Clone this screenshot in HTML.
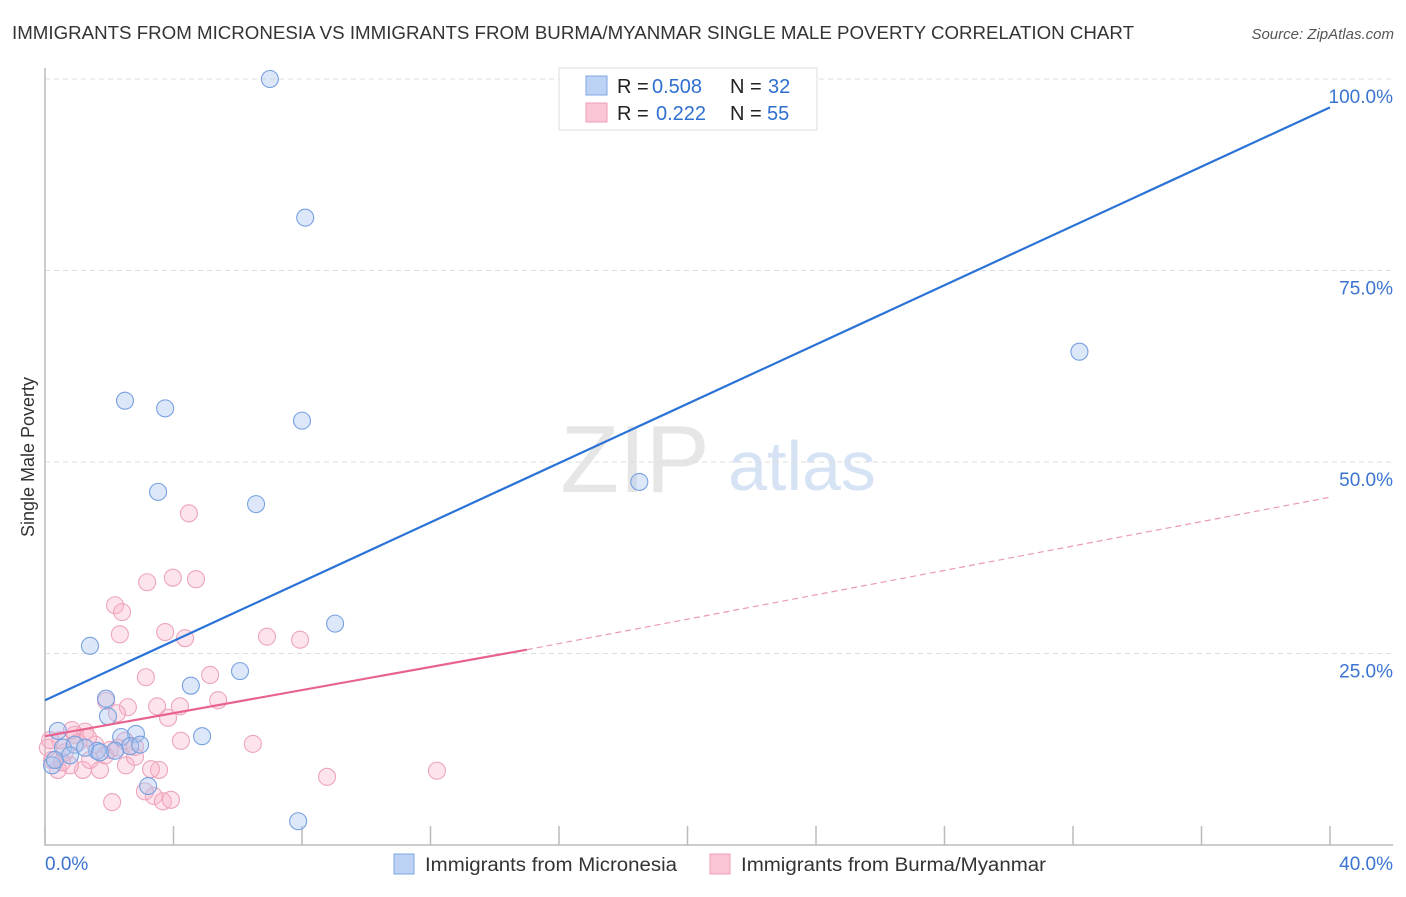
<!DOCTYPE html>
<html><head><meta charset="utf-8"><style>
body{margin:0;background:#fff;font-family:"Liberation Sans",sans-serif;}
svg text{font-family:"Liberation Sans",sans-serif;}
</style></head><body>
<svg id="chart" width="1406" height="892" xmlns="http://www.w3.org/2000/svg">
<text x="12" y="39" font-size="18" fill="#333" textLength="1122" lengthAdjust="spacingAndGlyphs">IMMIGRANTS FROM MICRONESIA VS IMMIGRANTS FROM BURMA/MYANMAR SINGLE MALE POVERTY CORRELATION CHART</text>
<text x="1394" y="39" font-size="15" fill="#555" text-anchor="end" font-style="italic">Source: ZipAtlas.com</text>
<g>
<text x="635" y="492" font-size="96" fill="#e6e6e6" text-anchor="middle" font-family="Liberation Serif, serif">ZIP</text>
<text x="802" y="490" font-size="70" fill="#d6e3f5" text-anchor="middle">atlas</text>
</g>
<g id="grid"></g><g id="axes"></g><g id="marks"></g><g id="lines"></g>
<g>
<rect x="559" y="68" width="258" height="62" fill="#fff" stroke="#ddd"/>
<rect x="586" y="76" width="21" height="19" fill="#bcd3f5" stroke="#7fa6e3"/>
<rect x="586" y="103" width="21" height="19" fill="#fbc6d4" stroke="#ee9db5"/>
<text x="617" y="93" font-size="20" fill="#222">R =</text>
<text x="652" y="93" font-size="20" fill="#2f6fcf">0.508</text>
<text x="730" y="93" font-size="20" fill="#222">N =</text>
<text x="768" y="93" font-size="20" fill="#2f6fcf">32</text>
<text x="617" y="120" font-size="20" fill="#222">R =</text>
<text x="656" y="120" font-size="20" fill="#2f6fcf">0.222</text>
<text x="730" y="120" font-size="20" fill="#222">N =</text>
<text x="767" y="120" font-size="20" fill="#2f6fcf">55</text>
</g>
<text transform="translate(34,457) rotate(-90)" font-size="18" fill="#333" text-anchor="middle">Single Male Poverty</text>
<g>
<rect x="394" y="854" width="20" height="20" fill="#bcd3f5" stroke="#7fa6e3"/>
<text x="425" y="871" font-size="19" fill="#333" textLength="252" lengthAdjust="spacingAndGlyphs">Immigrants from Micronesia</text>
<rect x="710" y="854" width="20" height="20" fill="#fbc6d4" stroke="#ee9db5"/>
<text x="741" y="871" font-size="19" fill="#333" textLength="305" lengthAdjust="spacingAndGlyphs">Immigrants from Burma/Myanmar</text>
</g>
</svg>
<script>
const blueX=[7.0,8.1,32.2,2.49,3.74,8.0,3.52,6.57,18.5,9.03,1.40,6.07,4.54,1.90,1.96,4.89,2.83,2.37,2.65,2.18,1.62,0.40,0.56,0.93,0.22,0.31,1.25,3.21,7.88,1.71,0.78,2.96];
const blueY=[100.0,81.9,64.4,58.0,57.0,55.4,46.1,44.5,47.4,28.9,26.0,22.7,20.8,19.1,16.8,14.2,14.5,14.1,12.9,12.3,12.3,14.9,12.7,13.1,10.4,11.1,12.7,7.7,3.1,12.1,11.7,13.1];
const pinkX=[4.48,3.98,4.70,3.18,2.18,2.40,2.33,3.74,4.36,6.91,7.94,3.14,5.14,5.39,1.90,2.58,4.20,3.49,3.83,2.24,6.47,4.23,8.78,12.2,2.09,3.39,3.67,3.92,3.11,3.55,3.30,2.52,1.71,1.18,0.40,0.78,0.22,0.09,0.47,0.93,1.25,1.56,2.02,2.49,2.80,1.40,1.87,0.62,1.03,2.80,0.84,0.16,1.34,2.27,0.53];
const pinkY=[43.3,34.9,34.7,34.3,31.3,30.4,27.5,27.8,27.0,27.2,26.8,21.9,22.2,18.9,18.8,18.0,18.1,18.1,16.6,17.2,13.2,13.6,8.9,9.7,5.6,6.4,5.7,5.9,7.0,9.8,9.9,10.4,9.8,9.8,9.8,10.4,11.1,12.7,13.7,14.4,14.8,13.1,12.4,13.6,12.8,11.1,11.7,12.1,13.4,11.5,15.0,13.7,14.0,12.7,10.8];
const yTicks=[25,50,75,100];
const yTickLabels=["25.0%","50.0%","75.0%","100.0%"];
const xTicks=[0,4,8,12,16,20,24,28,32,36,40];
const blueTrend=[[0,18.9],[40,96.3]];
const pinkTrendSolid=[[0,14.2],[15,25.5]];
const pinkTrendDash=[[15,25.5],[40,45.4]];
const X=v=>45+v*32.125, Y=v=>845-v*7.66;
const NS="http://www.w3.org/2000/svg";
function mk(p,t,a){const e=document.createElementNS(NS,t);for(const k in a)e.setAttribute(k,a[k]);p.appendChild(e);return e;}
const grid=document.getElementById('grid'),axes=document.getElementById('axes'),marks=document.getElementById('marks'),lines=document.getElementById('lines');
yTicks.forEach((v,i)=>{
 const g=mk(grid,'line',{x1:45,x2:1393,y1:Y(v),y2:Y(v),stroke:'#ddd','stroke-dasharray':'5,4'});
 
 
 const t=mk(axes,'text',{x:1393,y:Y(v)+24,'font-size':19,fill:'#3a74d0','text-anchor':'end'});
 t.textContent=yTickLabels[i];
 
 
});
const ax=mk(axes,'path',{d:'M45,68V845H1393',fill:'none',stroke:'#bbb','stroke-width':1.5});


xTicks.forEach(v=>{
 const l=mk(axes,'line',{x1:X(v),x2:X(v),y1:826,y2:845,stroke:'#bbb','stroke-width':1.5});
 
 
});
[[0,'start',45,'0.0%'],[40,'end',1393,'40.0%']].forEach(d=>{
 const t=mk(axes,'text',{x:d[2],y:870,'font-size':19,fill:'#3a74d0','text-anchor':d[1]});
 t.textContent=d[3];
 
 
});
pinkX.forEach((x,i)=>{
 const c=mk(marks,'circle',{cx:X(x),cy:Y(pinkY[i]),r:8.5,fill:'rgba(248,178,200,0.35)',stroke:'#eda5bb','stroke-width':1.1});
 
 
});
blueX.forEach((x,i)=>{
 const c=mk(marks,'circle',{cx:X(x),cy:Y(blueY[i]),r:8.5,fill:'rgba(168,198,240,0.4)',stroke:'#77a0e0','stroke-width':1.1});
 
 
});
function ln(d,st,w,dash,name){const l=mk(lines,'line',{x1:X(d[0][0]),y1:Y(d[0][1]),x2:X(d[1][0]),y2:Y(d[1][1]),stroke:st,'stroke-width':w});if(dash)l.setAttribute('stroke-dasharray',dash);
 
 }
ln(blueTrend,'#2a72d6',2.2,null,'trend-micronesia');
ln(pinkTrendSolid,'#e8628f',2.2,null,'trend-burma');
ln(pinkTrendDash,'#eb9ab3',1.2,'6,4','trend-burma-extension');
</script>
</body></html>
